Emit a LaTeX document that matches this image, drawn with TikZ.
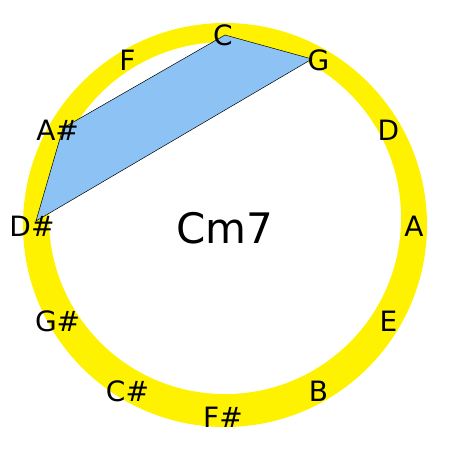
\documentclass[tikz,border=0pt]{standalone}
\usepackage{fontspec}
\setmainfont{DejaVu Sans}
\usepackage{tikz}
\definecolor{chordblue}{RGB}{141,195,244}

\begin{document}
\begin{tikzpicture}[x=1pt,y=-1pt,
        note/.style={font=\fontsize{28}{28}\selectfont, inner sep=0pt}]
        \useasboundingbox (0,0) rectangle (450,450);
        % yellow ring, the white hole sits a bit high
        \fill[yellow] (225,225) circle[radius=202];
        \fill[white] (225,218) circle[radius=176];
        % corners of the chord shape
        \coordinate (pC) at (225,35);
        \coordinate (pG) at (312,59);
        \coordinate (pDs) at (36,221);
        \coordinate (pAs) at (63,128);
        \filldraw[fill=chordblue, draw=black, line width=0.5pt] (pC) -- (pG) -- (pDs) -- (pAs) -- cycle;
        % note names round the circle (y points down, so angles go negative)
        \foreach \name/\ang [count=\i] in {C/-90, G/-60, D/-30, A/0, E/30, B/60, F\#/90,
                C\#/120, G\#/150, D\#/180, A\#/210, F/240}
            \node[note] (n\i) at ([shift={(\ang:191)}] 223,226) {\name};
        \node[font=\fontsize{42}{42}\selectfont, inner sep=0pt] (chord) at (224.5,228) {Cm7};
    \end{tikzpicture}
\end{document}
